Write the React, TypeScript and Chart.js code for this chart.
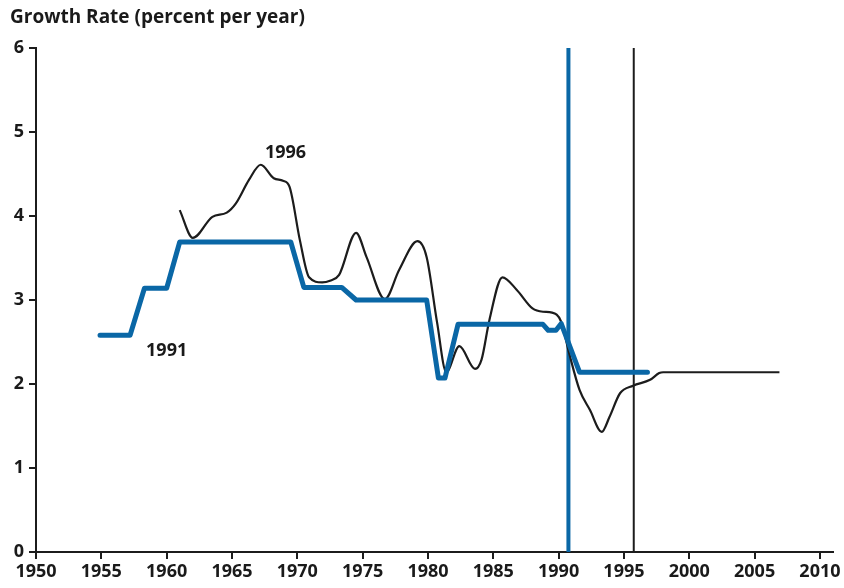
import React, { useEffect, useRef } from "react";
import { Chart, registerables } from "chart.js";

Chart.register(...registerables);

const titleText = "Growth Rate (percent per year)";

const xTicks = [1950, 1955, 1960, 1965, 1970, 1975, 1980, 1985, 1990, 1995, 2000, 2005, 2010];
const yTicks = [0, 1, 2, 3, 4, 5, 6];

// 1991 forecast (blue)
const blueYears = [1954.9, 1957.2, 1958.3, 1960.0, 1961.0, 1969.5, 1970.5, 1973.4, 1974.5, 1979.9, 1980.8, 1981.3, 1982.3, 1988.8, 1989.2, 1989.8, 1990.2, 1991.6, 1996.8];
const blueValues = [2.58, 2.58, 3.14, 3.14, 3.69, 3.69, 3.15, 3.15, 3.0, 3.0, 2.07, 2.07, 2.71, 2.71, 2.64, 2.64, 2.72, 2.14, 2.14];

// 1996 forecast (black)
const blackYears = [1961.0, 1962.0, 1963.5, 1964.6, 1965.3, 1966.3, 1967.2, 1968.2, 1968.9, 1969.4, 1970.2, 1970.9, 1971.9, 1972.5, 1973.2, 1974.5, 1975.3, 1976.7, 1977.8, 1979.2, 1979.9, 1980.7, 1981.4, 1982.4, 1983.6, 1984.1, 1984.7, 1985.7, 1986.8, 1988.0, 1988.8, 1989.5, 1990.2, 1990.8, 1991.6, 1992.4, 1993.3, 1993.9, 1994.7, 1995.7, 1997.0, 1997.7, 1998.0, 2000.0, 2003.0, 2006.9];
const blackValues = [4.07, 3.74, 3.99, 4.04, 4.15, 4.43, 4.61, 4.45, 4.42, 4.35, 3.71, 3.27, 3.21, 3.23, 3.30, 3.80, 3.51, 3.01, 3.36, 3.70, 3.51, 2.73, 2.14, 2.45, 2.18, 2.29, 2.76, 3.27, 3.12, 2.90, 2.86, 2.85, 2.74, 2.37, 1.93, 1.69, 1.43, 1.61, 1.89, 1.98, 2.05, 2.13, 2.14, 2.14, 2.14, 2.14];

// vertical markers: forecast dates
const blueMarkerYear = 1990.75;
const blackMarkerYear = 1995.75;

// series labels
const labelTexts = ["1991", "1996"];
const labelYears = [1960.0, 1969.1];
const labelValues = [2.39, 4.75];

const BLUE = "#0a67a6";
const BLACK = "#1c1c1c";
const FONT = "'Open Sans', Lato, sans-serif";

export default function App() {
  const ref = useRef<HTMLCanvasElement | null>(null);
  useEffect(() => {
    document.body.style.margin = "0";
    const ctx = ref.current!;
    const toPts = (xs: number[], ys: number[]) => xs.map((x, i) => ({ x, y: ys[i] }));
    const textPlugin = {
      id: "texts",
      afterDraw(chart: any) {
        const c = chart.ctx;
        const xs = chart.scales.x;
        const ys = chart.scales.y;
        c.save();
        c.fillStyle = "#1a1a1a";
        c.font = "bold 19px " + FONT;
        c.textBaseline = "middle";
        c.textAlign = "left";
        c.fillText(titleText, 10, 18);
        c.font = "bold 18px " + FONT;
        c.textAlign = "center";
        labelTexts.forEach((t, i) => {
          c.fillText(t, xs.getPixelForValue(labelYears[i]), ys.getPixelForValue(labelValues[i]));
        });
        c.restore();
      },
    };
    const chart = new Chart(ctx, {
      type: "line",
      data: {
        datasets: [
          {
            data: toPts(blueYears, blueValues),
            borderColor: BLUE,
            borderWidth: 5,
            pointRadius: 0,
            tension: 0,
            borderJoinStyle: "round",
            borderCapStyle: "round",
          },
          {
            data: toPts(blackYears, blackValues),
            borderColor: BLACK,
            borderWidth: 2.2,
            pointRadius: 0,
            tension: 0.4,
            cubicInterpolationMode: "monotone",
          },
          {
            data: [{ x: blueMarkerYear, y: 0 }, { x: blueMarkerYear, y: 6 }],
            borderColor: BLUE,
            borderWidth: 4,
            pointRadius: 0,
            clip: false,
          },
          {
            data: [{ x: blackMarkerYear, y: 0 }, { x: blackMarkerYear, y: 6 }],
            borderColor: BLACK,
            borderWidth: 2,
            pointRadius: 0,
            clip: false,
          },
        ],
      } as any,
      options: {
        animation: false,
        responsive: false,
        layout: { padding: { top: 48, right: 11, left: 0, bottom: 0 } },
        plugins: { legend: { display: false }, tooltip: { enabled: false }, title: { display: false } },
        scales: {
          x: {
            type: "linear",
            min: 1950,
            max: 2011,
            afterBuildTicks: (s: any) => { s.ticks = xTicks.map((v) => ({ value: v })); },
            afterFit: (s: any) => { s.height = 36; },
            grid: { drawOnChartArea: false, drawTicks: true, tickLength: 7, color: BLACK, lineWidth: 2 },
            border: { display: true, color: BLACK, width: 2 },
            ticks: {
              color: "#1a1a1a",
              padding: 2,
              maxRotation: 0,
              autoSkip: false,
              font: { family: FONT, size: 18, weight: "bold" },
              callback: (v: any) => String(v),
            },
          },
          y: {
            min: 0,
            max: 6,
            afterBuildTicks: (s: any) => { s.ticks = yTicks.map((v) => ({ value: v })); },
            afterFit: (s: any) => { s.width = 36; },
            grid: { drawOnChartArea: false, drawTicks: true, tickLength: 7, color: BLACK, lineWidth: 2 },
            border: { display: true, color: BLACK, width: 2 },
            ticks: {
              color: "#1a1a1a",
              padding: 5,
              font: { family: FONT, size: 18, weight: "bold" },
              callback: (v: any) => String(v),
            },
          },
        },
      } as any,
      plugins: [textPlugin],
    });
    return () => chart.destroy();
  }, []);
  return (
    <div style={{ width: 844, height: 588 }}>
      <canvas ref={ref} width={844} height={588} style={{ display: "block" }} />
    </div>
  );
}
